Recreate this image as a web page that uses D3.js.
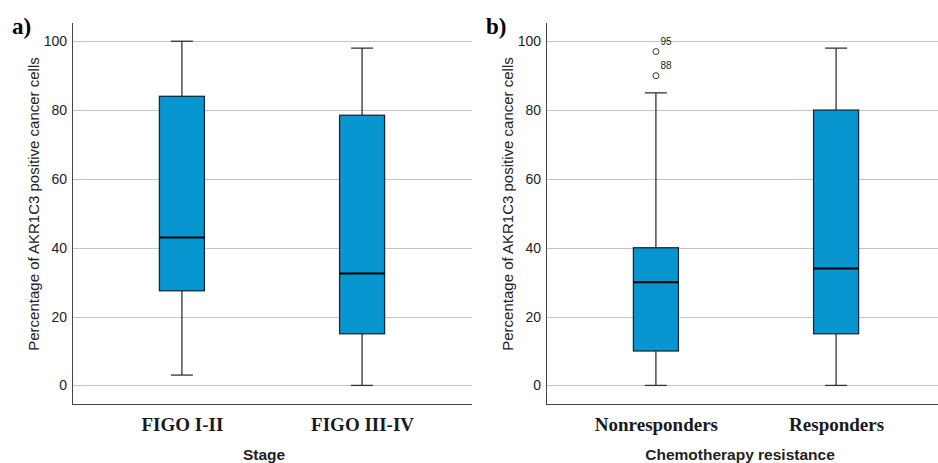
<!DOCTYPE html>
<html>
<head>
<meta charset="utf-8">
<script src="https://cdn.jsdelivr.net/npm/d3@7"></script>
<style>
	body { margin: 0; background: #fff; }
	svg { display: block; }
</style>
</head>
<body>
<div id="chart"></div>
<script>
// panel a: stage
var stageLabels = ["FIGO I-II", "FIGO III-IV"];
var stageMin = [3, 0];
var stageQ1 = [27.5, 15];
var stageMedian = [43, 32.5];
var stageQ3 = [84, 78.5];
var stageMax = [100, 98];

// panel b: chemotherapy resistance
var chemoLabels = ["Nonresponders", "Responders"];
var chemoMin = [0, 0];
var chemoQ1 = [10, 15];
var chemoMedian = [30, 34];
var chemoQ3 = [40, 80];
var chemoMax = [85, 98];

var outlierGroup = ["Nonresponders", "Nonresponders"];
var outlierValues = [97, 90];
var outlierIds = ["95", "88"];

var yTicks = [0, 20, 40, 60, 80, 100];

var W = 938, H = 463,
	top_y = 23, bottom_y = 404,
	panel_w = 400,
	box_w = 45, cap_w = 22,
	boxFill = "#0796cf";

var svg = d3.select("#chart")
	.append("svg")
	.attr("width", W)
	.attr("height", H);

var y = d3.scaleLinear()
	.domain([-5.4, 105.3])
	.range([bottom_y, top_y]);

function make_stats(labels, mn, q1, med, q3, mx) {
	return labels.map(function(l, i) {
		return {label: l, min: mn[i], q1: q1[i], median: med[i], q3: q3[i], max: mx[i]};
	});
}

function draw_panel(left, letter, stats, xTitle, titleShift, outliers) {
	var g = svg.append("g").attr("transform", "translate(" + left + ",0)");

	var x = d3.scalePoint()
		.domain(stats.map(function(d) { return d.label; }))
		.range([0, panel_w])
		.padding(0.61);

	// gridlines
	g.selectAll(".grid")
		.data(yTicks)
		.enter().append("line")
		.attr("class", "grid")
		.attr("x1", 0)
		.attr("x2", panel_w)
		.attr("y1", function(d) { return Math.round(y(d)) + 0.5; })
		.attr("y2", function(d) { return Math.round(y(d)) + 0.5; })
		.style("stroke", "#c4c4c4")
		.style("stroke-width", 1);

	// y axis
	var yAxis = d3.axisLeft(y).tickValues(yTicks).tickSize(0).tickPadding(5);
	var ya = g.append("g").attr("class", "y axis").call(yAxis);
	ya.select(".domain").remove();
	ya.selectAll("text")
		.style("font", "14px 'Liberation Sans', Arial, sans-serif")
		.style("fill", "#222");

	g.append("line")
		.attr("x1", 0.5).attr("x2", 0.5)
		.attr("y1", top_y).attr("y2", bottom_y)
		.style("stroke", "#444").style("stroke-width", 1);

	// x axis
	var xAxis = d3.axisBottom(x).tickSize(0).tickPadding(14);
	var xa = g.append("g")
		.attr("class", "x axis")
		.attr("transform", "translate(0," + bottom_y + ")")
		.call(xAxis);
	xa.select(".domain").remove();
	xa.selectAll("text")
		.style("font", "bold 19px 'Liberation Serif', 'Times New Roman', serif")
		.style("fill", "#1a1a1a");

	g.append("line")
		.attr("x1", 0).attr("x2", panel_w)
		.attr("y1", bottom_y + 0.5).attr("y2", bottom_y + 0.5)
		.style("stroke", "#444").style("stroke-width", 1);

	// whiskers
	var boxes = g.selectAll(".box")
		.data(stats)
		.enter().append("g")
		.attr("class", "box")
		.attr("transform", function(d) { return "translate(" + x(d.label) + ",0)"; });

	boxes.append("line")
		.attr("x1", 0).attr("x2", 0)
		.attr("y1", function(d) { return y(d.min); })
		.attr("y2", function(d) { return y(d.max); })
		.style("stroke", "#333").style("stroke-width", 1.3);

	boxes.selectAll(".cap")
		.data(function(d) { return [d.min, d.max]; })
		.enter().append("line")
		.attr("class", "cap")
		.attr("x1", -cap_w / 2).attr("x2", cap_w / 2)
		.attr("y1", function(v) { return y(v); })
		.attr("y2", function(v) { return y(v); })
		.style("stroke", "#333").style("stroke-width", 1.3);

	boxes.append("rect")
		.attr("x", -box_w / 2)
		.attr("width", box_w)
		.attr("y", function(d) { return y(d.q3); })
		.attr("height", function(d) { return y(d.q1) - y(d.q3); })
		.style("fill", boxFill)
		.style("stroke", "#1e2a33")
		.style("stroke-width", 1.3);

	boxes.append("line")
		.attr("x1", -box_w / 2).attr("x2", box_w / 2)
		.attr("y1", function(d) { return y(d.median); })
		.attr("y2", function(d) { return y(d.median); })
		.style("stroke", "#000").style("stroke-width", 2);

	// outliers
	if (outliers) {
		var o = g.selectAll(".outlier")
			.data(outliers)
			.enter().append("g")
			.attr("class", "outlier")
			.attr("transform", function(d) { return "translate(" + x(d.group) + "," + y(d.value) + ")"; });
		o.append("circle")
			.attr("r", 3)
			.style("fill", "#fff")
			.style("stroke", "#333")
			.style("stroke-width", 1);
		o.append("text")
			.attr("x", 4.5)
			.attr("y", -7)
			.text(function(d) { return d.id; })
			.style("font", "10px 'Liberation Sans', Arial, sans-serif")
			.style("fill", "#222");
	}

	// y title
	g.append("text")
		.attr("transform", "translate(-33," + 204 + ") rotate(-90)")
		.attr("text-anchor", "middle")
		.text("Percentage of AKR1C3 positive cancer cells")
		.style("font", "15px 'Liberation Sans', Arial, sans-serif")
		.style("fill", "#222");

	// x title
	g.append("text")
		.attr("x", panel_w / 2 + titleShift)
		.attr("y", 460)
		.attr("text-anchor", "middle")
		.text(xTitle)
		.style("font", "bold 15.5px 'Liberation Sans', Arial, sans-serif")
		.style("fill", "#222");

	// panel letter
	svg.append("text")
		.attr("x", left - 60)
		.attr("y", 34)
		.text(letter)
		.style("font", "bold 23px 'Liberation Serif', 'Times New Roman', serif")
		.style("fill", "#000");
}

var outlierData = outlierValues.map(function(v, i) {
	return {group: outlierGroup[i], value: v, id: outlierIds[i]};
});

draw_panel(72, "a)", make_stats(stageLabels, stageMin, stageQ1, stageMedian, stageQ3, stageMax), "Stage", -8, null);
draw_panel(546, "b)", make_stats(chemoLabels, chemoMin, chemoQ1, chemoMedian, chemoQ3, chemoMax), "Chemotherapy resistance", -6, outlierData);
</script>
</body>
</html>
